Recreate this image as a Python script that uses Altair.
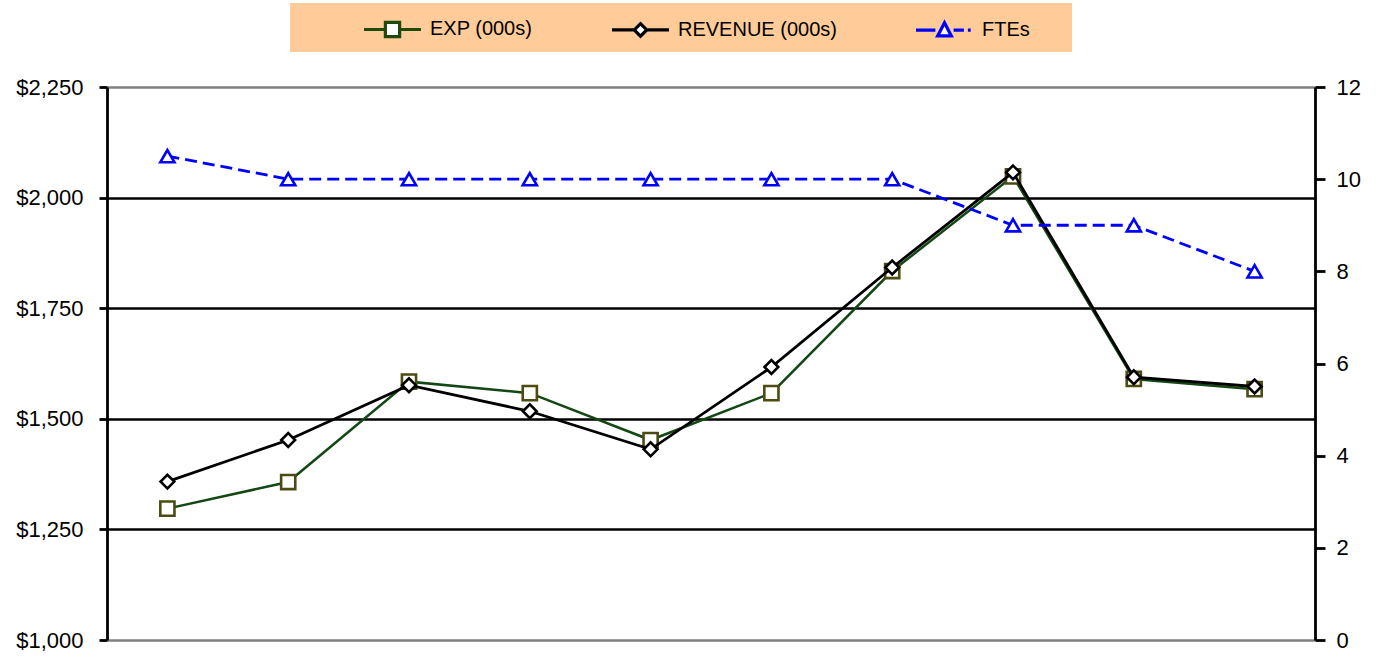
import altair as alt
import pandas as pd

# ---- data ----
categories = ["P1", "P2", "P3", "P4", "P5", "P6", "P7", "P8", "P9", "P10"]
exp_values = [1297, 1357, 1584, 1558, 1452, 1558, 1834, 2048, 1590, 1567]
rev_values = [1358, 1452, 1576, 1517, 1431, 1617, 1842, 2057, 1594, 1573]
fte_values = [10.5, 10, 10, 10, 10, 10, 10, 9, 9, 8]

series_names = ["EXP (000s)", "REVENUE (000s)", "FTEs"]
left_ticks = [1000, 1250, 1500, 1750, 2000, 2250]
right_ticks = [0, 2, 4, 6, 8, 10, 12]

FONT = "Liberation Sans"
EXP_LINE = "#134713"
EXP_MARK = "#4B4B12"
REV_COL = "#000000"
FTE_COL = "#0000FF"

df_exp = pd.DataFrame({"cat": categories, "value": exp_values})
df_rev = pd.DataFrame({"cat": categories, "value": rev_values})
df_fte = pd.DataFrame({"cat": categories, "value": fte_values})
df_legend = pd.DataFrame({"series": series_names})
df_bg = pd.DataFrame({"k": [0]})

x_enc = alt.X("cat:O", sort=categories, axis=None,
              scale=alt.Scale(type="point", padding=0.5))

left_axis = alt.Axis(
    orient="left", values=left_ticks, format="$,.0f", title=None,
    grid=True,
    gridColor={"condition": {"test": "datum.value == 1000 || datum.value == 2250",
                             "value": "#808080"}, "value": "#000000"},
    gridWidth=2.5,
    domainColor="black", domainWidth=2.8,
    tickColor="black", tickWidth=2.8, tickSize=8,
    labelFont=FONT, labelFontSize=22, labelColor="black", labelPadding=16,
)
y_left = alt.Y("value:Q", axis=left_axis,
               scale=alt.Scale(domain=[1000, 2250], nice=False, zero=False))

right_axis = alt.Axis(
    orient="right", values=right_ticks, format="d", title=None, grid=False,
    domainColor="black", domainWidth=2.8,
    tickColor="black", tickWidth=2.8, tickSize=10,
    labelFont=FONT, labelFontSize=22, labelColor="black", labelPadding=11,
)
y_right = alt.Y("value:Q", axis=right_axis,
                scale=alt.Scale(domain=[0, 12], nice=False, zero=True))

# legend background box
bg = alt.Chart(df_bg).mark_rect(color="#FFCC99").encode(
    x=alt.value(183), x2=alt.value(965), y=alt.value(-84), y2=alt.value(-35)
)

exp_line = alt.Chart(df_exp).mark_line(color=EXP_LINE, strokeWidth=2.5).encode(x=x_enc, y=y_left)
exp_pts = alt.Chart(df_exp).mark_point(
    shape="square", size=200, filled=True, fill="white", stroke=EXP_MARK,
    strokeWidth=2.6, opacity=1
).encode(x=x_enc, y=y_left)

rev_line = alt.Chart(df_rev).mark_line(color=REV_COL, strokeWidth=2.8).encode(x=x_enc, y=y_left)
rev_pts = alt.Chart(df_rev).mark_point(
    shape="diamond", size=190, filled=True, fill="white", stroke=REV_COL,
    strokeWidth=2.6, opacity=1
).encode(x=x_enc, y=y_left)

# legend carrier (invisible points, custom line+marker legend symbols)
legend_paths = [
    "M-1,0H-0.25M0.25,0H1M-0.25,-0.25H0.25V0.25H-0.25Z",
    "M-1,0H-0.22M0.22,0H1M0,-0.22L0.22,0L0,0.22L-0.22,0Z",
    "M-1,0H-0.32M0.32,0H0.68M0.82,0H0.92M0,-0.26L0.24,0.2H-0.24Z",
]
legend_colors = ["#1E4A0E", REV_COL, FTE_COL]
leg = alt.Legend(
    title=None, orient="none", legendX=255, legendY=-88.5, direction="horizontal",
    symbolSize=3249, symbolStrokeWidth=3.2, symbolFillColor="white",
    labelFont=FONT, labelFontSize=20, labelColor="black", labelOffset=7,
    columnPadding=72, labelLimit=400, padding=0,
)
legend_layer = alt.Chart(df_legend).mark_point(
    size=0, filled=False, fill="white", strokeWidth=3.2, opacity=1
).encode(
    x=alt.value(0), y=alt.value(0),
    stroke=alt.Stroke("series:N", scale=alt.Scale(domain=series_names, range=legend_colors), legend=leg),
    shape=alt.Shape("series:N", scale=alt.Scale(domain=series_names, range=legend_paths), legend=leg),
)

fte_line = alt.Chart(df_fte).mark_line(color=FTE_COL, strokeWidth=2.8, strokeDash=[12, 6]).encode(x=x_enc, y=y_right)
fte_pts = alt.Chart(df_fte).mark_point(
    shape="triangle-up", size=200, filled=True, fill="white", stroke=FTE_COL,
    strokeWidth=2.6, opacity=1
).encode(x=x_enc, y=y_right)

left = alt.layer(bg, exp_line, exp_pts, rev_line, rev_pts, legend_layer)
right = alt.layer(fte_line, fte_pts)

chart = alt.layer(left, right).resolve_scale(y="independent").properties(
    width=1208, height=553,
    padding={"left": 107, "top": 87, "right": 64, "bottom": 18},
    autosize=alt.AutoSizeParams(type="none"),
    background="white",
).configure_view(stroke=None)

chart.save("out.html", embed_options={"renderer": "svg", "actions": False})
